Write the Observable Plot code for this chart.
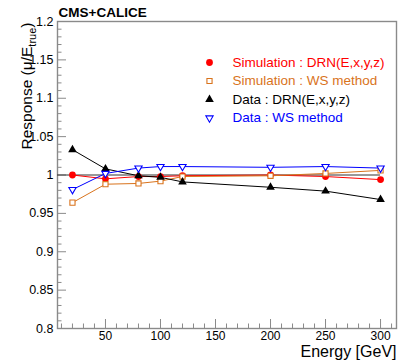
<!DOCTYPE html>
<html><head><meta charset="utf-8">
<script src="https://cdn.jsdelivr.net/npm/d3@7"></script>
<script src="https://cdn.jsdelivr.net/npm/@observablehq/plot@0.6"></script>
<style>
body{margin:0;background:#fff}
#chart svg{font-family:"Liberation Sans",Arial,Helvetica,sans-serif;display:block}
</style>
</head><body><div id="chart"></div>
<script>
const energies = [20, 50, 80, 100, 120, 200, 250, 300];
const simDRN  = [1.000, 0.995, 0.998, 0.998, 0.999, 1.000, 0.998, 0.994];
const simWS   = [0.964, 0.988, 0.989, 0.992, 0.998, 0.999, 1.002, 1.006];
const dataDRN = [1.033, 1.008, 0.999, 0.997, 0.991, 0.984, 0.979, 0.968];
const dataWS  = [0.981, 1.002, 1.009, 1.011, 1.011, 1.010, 1.011, 1.009];
const seriesNames = ["Simulation : DRN(E,x,y,z)", "Simulation : WS method", "Data : DRN(E,x,y,z)", "Data : WS method"];
const seriesValues = [simDRN, simWS, dataDRN, dataWS];
const seriesColors = ["#ff0000", "#d9731c", "#000000", "#0000ff"];
const xTicks = [50, 100, 150, 200, 250, 300];
const yTicks = [0.8, 0.85, 0.9, 0.95, 1.0, 1.05, 1.1, 1.15, 1.2];
const titleText = "CMS+CALICE";
const xLabel = "Energy [GeV]";
const yLabel = "Response (μ/E";
const yLabelSub = "true";
const xDomain = [6.4, 314.5];
const yDomain = [0.8, 1.2];

const rows = [];
seriesNames.forEach((s, i) => energies.forEach((e, j) => rows.push({s, e, v: seriesValues[i][j]})));

const xMinor = d3.range(10, 311, 10).filter(v => v % 50 !== 0);
const yMinor = d3.range(80, 121, 1).filter(v => v % 5 !== 0).map(v => v / 100);

const symStyle = [
  {symbol: "circle", fill: seriesColors[0], stroke: "none", r: 3.4, rotate: 0},
  {symbol: "square", fill: "white", stroke: seriesColors[1], r: 2.9, rotate: 0},
  {symbol: "triangle", fill: seriesColors[2], stroke: "none", r: 3.2, rotate: 0},
  {symbol: "triangle", fill: "white", stroke: seriesColors[3], r: 2.7, rotate: 180}
];

const grey = "#8a8a8a";
const marks = [
  Plot.frame({stroke: grey, strokeWidth: 1.4}),
  Plot.axisX({ticks: xMinor, tickSize: -4.5, text: null, label: null, stroke: grey}),
  Plot.axisX({ticks: xTicks, tickSize: -9, tickPadding: 12, label: null, stroke: grey, fill: "#000", fontSize: 12, tickFormat: d => String(d)}),
  Plot.axisY({ticks: yMinor, tickSize: -4.5, text: null, label: null, stroke: grey}),
  Plot.axisY({ticks: yTicks, tickSize: -9, tickPadding: 13, label: null, stroke: grey, fill: "#000", fontSize: 12.5, tickFormat: d => String(+d.toFixed(2))}),
  Plot.ruleY([1], {x1: xDomain[0], x2: 300, stroke: "#333", strokeWidth: 1}),
  Plot.line(rows, {x: "e", y: "v", z: "s", stroke: "s", strokeWidth: 1})
];
seriesNames.forEach((s, i) => {
  const st = symStyle[i];
  marks.push(Plot.dot(rows.filter(d => d.s === s), {x: "e", y: "v", symbol: st.symbol, r: st.r, fill: st.fill, stroke: st.stroke, strokeWidth: 1.1, rotate: st.rotate}));
  // legend entry
  const dy = 41 + i * 18.5;
  marks.push(Plot.dot([s], {frameAnchor: "top-left", dx: 152, dy, symbol: st.symbol, r: st.r, fill: st.fill, stroke: st.stroke, strokeWidth: 1.1, rotate: st.rotate}));
  marks.push(Plot.text([s], {frameAnchor: "top-left", dx: 175, dy, text: d => d, fill: seriesColors[i], fontSize: 13.5, textAnchor: "start", lineAnchor: "middle"}));
});
marks.push(Plot.text([titleText], {frameAnchor: "top-left", dx: 1, dy: -5, text: d => d, fontWeight: "bold", fontSize: 13.5, textAnchor: "start", lineAnchor: "bottom"}));
marks.push(Plot.text([xLabel], {frameAnchor: "bottom-right", dx: 0, dy: 28, text: d => d, fontSize: 16, textAnchor: "end", lineAnchor: "bottom"}));
marks.push(Plot.text([yLabel], {frameAnchor: "top-left", dx: -26, dy: 1, rotate: -90, text: d => d, fontSize: 15.5, textAnchor: "end", lineAnchor: "bottom", className: "ylab"}));

const chart = Plot.plot({
  width: 415, height: 361,
  marginLeft: 57, marginRight: 19, marginTop: 21, marginBottom: 33,
  x: {domain: xDomain, axis: null},
  y: {domain: yDomain, axis: null},
  color: {domain: seriesNames, range: seriesColors},
  style: {fontFamily: "'Liberation Sans', Arial, Helvetica, sans-serif", background: "white"},
  marks
});
document.getElementById("chart").append(chart);

// add subscript to y label
d3.select(chart).selectAll(".ylab text").each(function() {
  const t = d3.select(this);
  t.text(yLabel);
  t.append("tspan").attr("font-size", 11).attr("dy", 4).text(yLabelSub);
  t.append("tspan").attr("dy", -4).text(")");
});
</script>
</body></html>
